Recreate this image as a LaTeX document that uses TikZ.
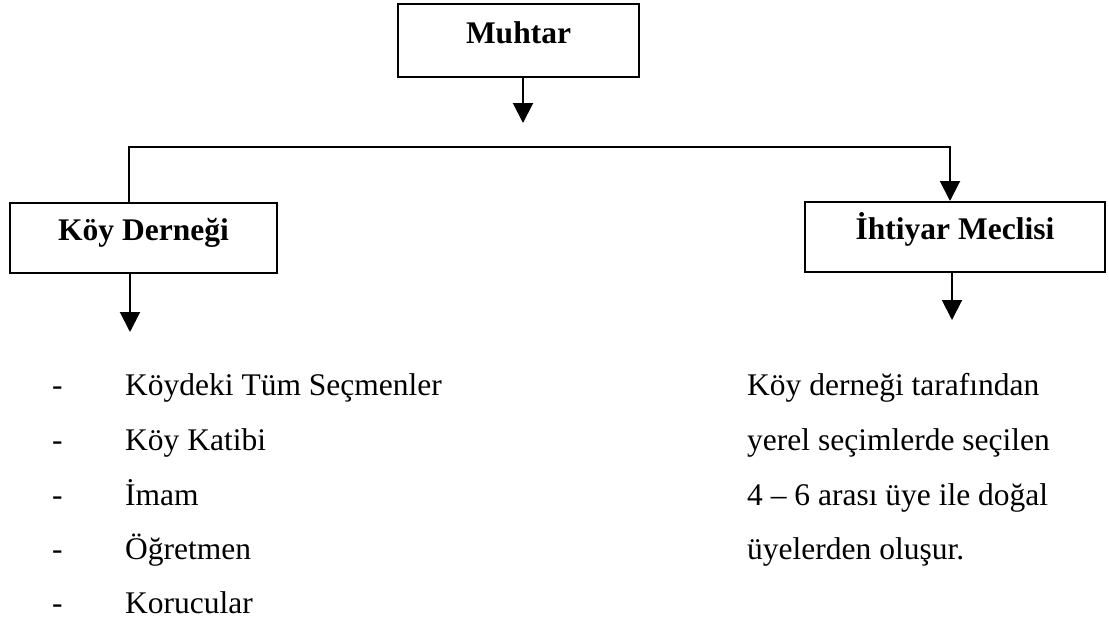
\documentclass[tikz,border=0pt]{standalone}
\usepackage{fontspec}
\setmainfont{Liberation Serif}
\usetikzlibrary{arrows.meta}
\begin{document}
\begin{tikzpicture}[x=1pt,y=-1pt,
  box/.style={draw,line width=2pt,rectangle,inner sep=0pt,font=\fontsize{31.5}{38}\selectfont\bfseries,text height=0.72em,text depth=0.22em},
  arr/.style={line width=2pt,-{Triangle[width=20pt,length=20pt]}},
  txt/.style={anchor=base west,inner sep=0pt,font=\fontsize{31.5}{38}\selectfont}]
\useasboundingbox (0,0) rectangle (1109,624);
\fill[white] (0,0) rectangle (1109,624);
% boxes
\node[box,minimum width=241pt,minimum height=73pt] (muhtar) at (518.5,40.5) {Muhtar};
\node[box,minimum width=267pt,minimum height=70pt] (koy) at (143.5,238) {Köy Derneği};
\node[box,minimum width=300pt,minimum height=70pt] (iht) at (955,237) {İhtiyar Meclisi};
% coordinates
\coordinate (a1) at (523,123);
\coordinate (hl) at (129,147);
\coordinate (hr) at (950,147);
\coordinate (a2) at (130,332);
\coordinate (a3) at (952,320);
% connectors
\draw[arr] (muhtar.south -| a1) -- (a1);
\draw[arr] (koy.north -| hl) -- (hl) -- (hr) -- (iht.north -| hr);
\draw[arr] (koy.south -| a2) -- (a2);
\draw[arr] (iht.south -| a3) -- (a3);
% left list
\node[txt] (d1) at (52,395) {-};
\node[txt] (l1) at (125,395) {Köydeki Tüm Seçmenler};
\node[txt] (d2) at (52,450) {-};
\node[txt] (l2) at (125,450) {Köy Katibi};
\node[txt] (d3) at (52,505) {-};
\node[txt] (l3) at (125,505) {İmam};
\node[txt] (d4) at (52,559) {-};
\node[txt] (l4) at (125,559) {Öğretmen};
\node[txt] (d5) at (52,613) {-};
\node[txt] (l5) at (125,613) {Korucular};
% right text
\node[txt] (r1) at (747,395) {Köy derneği tarafından};
\node[txt] (r2) at (747,450) {yerel seçimlerde seçilen};
\node[txt] (r3) at (747,505) {4 – 6 arası üye ile doğal};
\node[txt] (r4) at (747,559) {üyelerden oluşur.};
\end{tikzpicture}
\end{document}
